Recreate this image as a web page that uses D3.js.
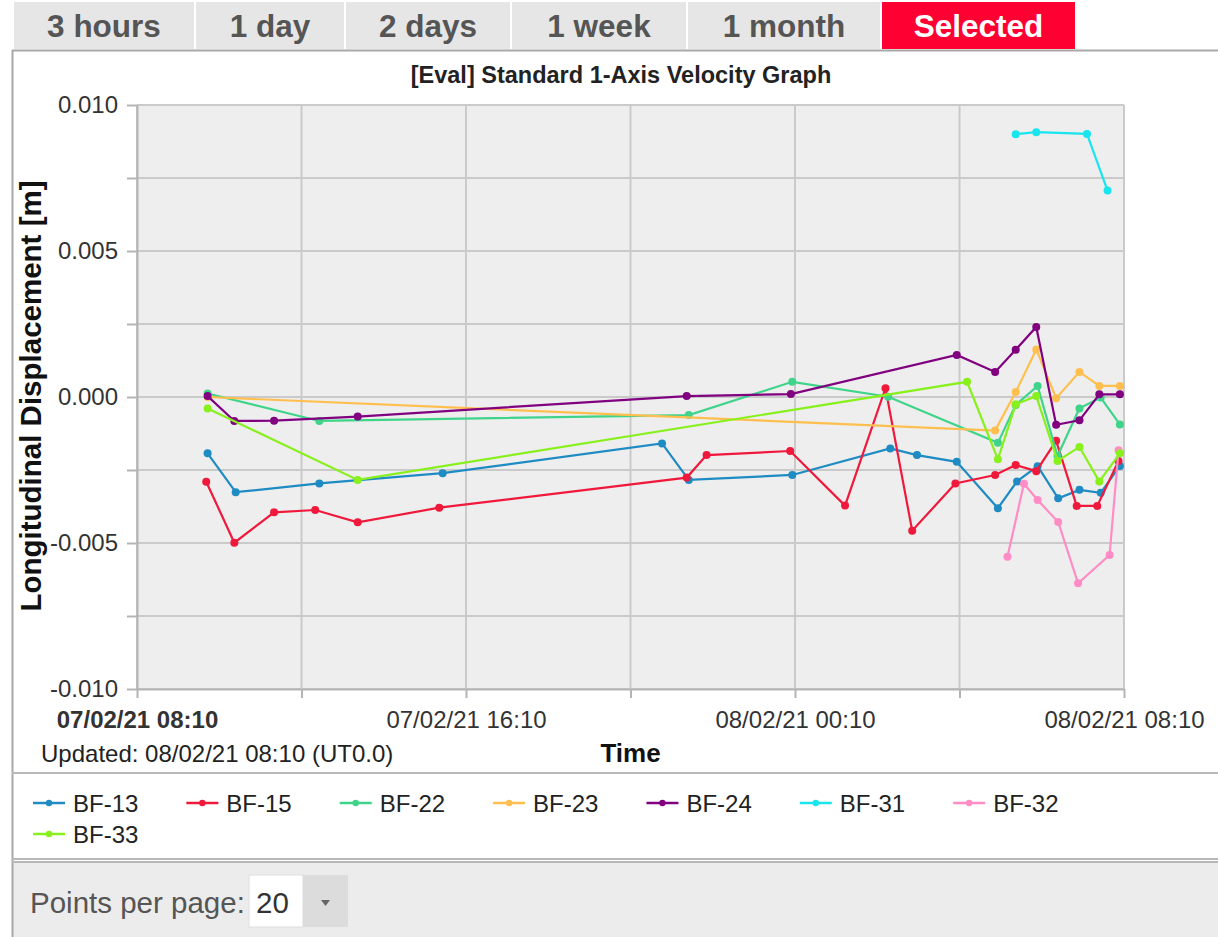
<!DOCTYPE html>
<meta charset="utf-8">
<style>

body { margin: 0; background: #fff; }
svg { display: block; font-family: "Liberation Sans", Arial, sans-serif; }

.aba text { font-size: 31.5px; font-weight: bold; text-anchor: middle; }
.eixo text { font-size: 24px; fill: #333; font-family: "Liberation Sans", Arial, sans-serif; }
.eixo path, .eixo line { stroke: #b4b4b4; stroke-width: 2; }
.grade line { stroke: #cacaca; stroke-width: 2; }
.serie path { fill: none; stroke-width: 2.2; }
.legenda text { font-size: 24px; fill: #222; }

</style>

<svg width="1218" height="937"></svg>

<script src="https://d3js.org/d3.v7.min.js"></script>
<script>

// ---- dados ----
var seriesNomes = ["BF-13", "BF-15", "BF-22", "BF-23", "BF-24", "BF-31", "BF-32", "BF-33"];

var bf13 = [
  ["07/02/21 09:53", -0.00193], ["07/02/21 10:34", -0.00326], ["07/02/21 12:36", -0.00296],
  ["07/02/21 15:36", -0.00261], ["07/02/21 20:56", -0.00159], ["07/02/21 21:35", -0.00284],
  ["08/02/21 00:06", -0.00267], ["08/02/21 02:29", -0.00176], ["08/02/21 03:08", -0.00199],
  ["08/02/21 04:06", -0.00222], ["08/02/21 05:06", -0.00381], ["08/02/21 05:34", -0.00289],
  ["08/02/21 06:04", -0.00237], ["08/02/21 06:34", -0.00347], ["08/02/21 07:05", -0.00318],
  ["08/02/21 07:36", -0.00328], ["08/02/21 08:04", -0.00236]
];
var bf15 = [
  ["07/02/21 09:51", -0.00290], ["07/02/21 10:32", -0.00499], ["07/02/21 11:30", -0.00395],
  ["07/02/21 12:30", -0.00387], ["07/02/21 13:32", -0.00429], ["07/02/21 15:31", -0.00379],
  ["07/02/21 21:32", -0.00276], ["07/02/21 22:01", -0.00199], ["08/02/21 00:03", -0.00185],
  ["08/02/21 01:23", -0.00372], ["08/02/21 02:22", 0.00030], ["08/02/21 03:01", -0.00458],
  ["08/02/21 04:04", -0.00296], ["08/02/21 05:02", -0.00267], ["08/02/21 05:32", -0.00233],
  ["08/02/21 06:02", -0.00254], ["08/02/21 06:31", -0.00150], ["08/02/21 07:01", -0.00373],
  ["08/02/21 07:31", -0.00373], ["08/02/21 08:02", -0.00219]
];
var bf22 = [
  ["07/02/21 09:53", 0.00012], ["07/02/21 12:36", -0.00082], ["07/02/21 21:35", -0.00062],
  ["08/02/21 00:06", 0.00052], ["08/02/21 02:26", 0.00001], ["08/02/21 05:06", -0.00157],
  ["08/02/21 05:32", -0.00027], ["08/02/21 06:04", 0.00038], ["08/02/21 06:33", -0.00202],
  ["08/02/21 07:05", -0.00039], ["08/02/21 07:36", -0.00002], ["08/02/21 08:04", -0.00094]
];
var bf23 = [
  ["07/02/21 09:53", 0.00000], ["08/02/21 05:02", -0.00115], ["08/02/21 05:32", 0.00017],
  ["08/02/21 06:02", 0.00163], ["08/02/21 06:31", -0.00004], ["08/02/21 07:05", 0.00086],
  ["08/02/21 07:34", 0.00038], ["08/02/21 08:04", 0.00038]
];
var bf24 = [
  ["07/02/21 09:53", 0.00003], ["07/02/21 10:32", -0.00082], ["07/02/21 11:30", -0.00081],
  ["07/02/21 13:32", -0.00067], ["07/02/21 21:32", 0.00003], ["08/02/21 00:04", 0.00010],
  ["08/02/21 04:06", 0.00144], ["08/02/21 05:02", 0.00086], ["08/02/21 05:32", 0.00162],
  ["08/02/21 06:02", 0.00240], ["08/02/21 06:31", -0.00095], ["08/02/21 07:05", -0.00080],
  ["08/02/21 07:34", 0.00009], ["08/02/21 08:04", 0.00009]
];
var bf31 = [
  ["08/02/21 05:32", 0.00900], ["08/02/21 06:02", 0.00907], ["08/02/21 07:16", 0.00901],
  ["08/02/21 07:46", 0.00707]
];
var bf32 = [
  ["08/02/21 05:20", -0.00547], ["08/02/21 05:44", -0.00297], ["08/02/21 06:04", -0.00353],
  ["08/02/21 06:34", -0.00428], ["08/02/21 07:03", -0.00638], ["08/02/21 07:49", -0.00541],
  ["08/02/21 08:02", -0.00182]
];
var bf33 = [
  ["07/02/21 09:53", -0.00039], ["07/02/21 13:32", -0.00284], ["08/02/21 04:21", 0.00052],
  ["08/02/21 05:06", -0.00213], ["08/02/21 05:32", -0.00025], ["08/02/21 06:02", 0.00003],
  ["08/02/21 06:33", -0.00219], ["08/02/21 07:05", -0.00171], ["08/02/21 07:34", -0.00289],
  ["08/02/21 08:04", -0.00193]
];

var xTicks = ["07/02/21 08:10", "07/02/21 12:10", "07/02/21 16:10", "07/02/21 20:10",
              "08/02/21 00:10", "08/02/21 04:10", "08/02/21 08:10"];
var yTicks = [-0.01, -0.0075, -0.005, -0.0025, 0, 0.0025, 0.005, 0.0075, 0.01];
var abas = ["3 hours", "1 day", "2 days", "1 week", "1 month", "Selected"];

// ---- estilo ----
var cores = ["#1e8bc3", "#f0193c", "#3fd48a", "#ffbf4f", "#800080", "#19e5ef", "#ff8cc4", "#88f01c"];
var abaBordas = [14, 196, 346, 512, 688, 882, 1077];

var svg = d3.select("svg");
var parse = d3.timeParse("%d/%m/%y %H:%M");
var fmt = d3.formatLocale({decimal: ".", thousands: ",", grouping: [3], currency: ["", ""], minus: "-"}).format(".3f");

var series = [bf13, bf15, bf22, bf23, bf24, bf31, bf32, bf33].map(function(v, i) {
  return {nome: seriesNomes[i], cor: cores[i], valores: v};
});

// abas
var aba = svg.selectAll(".aba").data(abas).enter().append("g").attr("class", "aba");
aba.append("rect")
    .attr("x", (d, i) => abaBordas[i])
    .attr("y", 2)
    .attr("width", (d, i) => abaBordas[i + 1] - abaBordas[i] - 2)
    .attr("height", 47)
    .attr("fill", (d, i) => i === abas.length - 1 ? "#ff0033" : "#e6e6e6");
aba.append("text")
    .attr("x", (d, i) => (abaBordas[i] + abaBordas[i + 1] - 2) / 2)
    .attr("y", 37)
    .attr("fill", (d, i) => i === abas.length - 1 ? "#fff" : "#555")
    .text(d => d);

// moldura do painel
svg.append("rect").attr("x", 12).attr("y", 862).attr("width", 1206).attr("height", 75).attr("fill", "#ececec");
svg.append("line").attr("x1", 12).attr("x2", 1218).attr("y1", 50.5).attr("y2", 50.5).attr("stroke", "#a8a8a8").attr("stroke-width", 2);
svg.append("line").attr("x1", 12.5).attr("x2", 12.5).attr("y1", 50).attr("y2", 937).attr("stroke", "#a8a8a8").attr("stroke-width", 2);
[773, 859, 862].forEach(function(yy) {
  svg.append("line").attr("x1", 12).attr("x2", 1218).attr("y1", yy).attr("y2", yy)
      .attr("stroke", "#b8b8b8").attr("stroke-width", 2);
});

// escalas
var x = d3.scaleTime().domain([parse(xTicks[0]), parse(xTicks[xTicks.length - 1])]).range([137, 1124]);
var y = d3.scaleLinear().domain([-0.01, 0.01]).range([689, 105]);

svg.append("rect").attr("x", 137).attr("y", 105).attr("width", 987).attr("height", 584).attr("fill", "#eeeeee");

var grade = svg.append("g").attr("class", "grade");
grade.selectAll(".gx").data(xTicks).enter().append("line")
    .attr("x1", d => x(parse(d))).attr("x2", d => x(parse(d)))
    .attr("y1", 105).attr("y2", 689);
grade.selectAll(".gy").data(yTicks).enter().append("line")
    .attr("x1", 137).attr("x2", 1124)
    .attr("y1", d => y(d)).attr("y2", d => y(d));

// eixos
svg.append("g")
    .attr("class", "eixo")
    .attr("transform", "translate(137,0)")
    .call(d3.axisLeft(y).tickValues(yTicks).tickSize(10).tickSizeOuter(0).tickPadding(9)
      .tickFormat(d => Math.abs(Math.round(d * 10000)) % 50 === 0 ? fmt(d) : ""));

var eixoX = svg.append("g")
    .attr("class", "eixo")
    .attr("transform", "translate(0,689)")
    .call(d3.axisBottom(x).tickValues(xTicks.map(parse)).tickSize(9).tickSizeOuter(0).tickPadding(13)
      .tickFormat((d, i) => i % 2 === 0 ? xTicks[i] : ""));
eixoX.selectAll(".tick text").filter((d, i) => i === 0).attr("font-weight", "bold").attr("fill", "#222");

// séries
var linha = d3.line().x(d => x(parse(d[0]))).y(d => y(d[1]));

var serie = svg.selectAll(".serie").data(series).enter().append("g").attr("class", "serie");
serie.append("path").attr("stroke", d => d.cor).attr("d", d => linha(d.valores));
serie.selectAll("circle").data(d => d.valores.map(v => [v, d.cor])).enter().append("circle")
    .attr("cx", d => x(parse(d[0][0])))
    .attr("cy", d => y(d[0][1]))
    .attr("r", 4)
    .attr("fill", d => d[1]);

// textos
svg.append("text").attr("x", 621).attr("y", 83).attr("text-anchor", "middle")
    .attr("font-size", 23.5).attr("font-weight", "bold").attr("fill", "#222")
    .text("[Eval] Standard 1-Axis Velocity Graph");

svg.append("text").attr("transform", "translate(41,396) rotate(-90)").attr("text-anchor", "middle")
    .attr("font-size", 29.5).attr("font-weight", "bold").attr("fill", "#111")
    .text("Longitudinal Displacement [m]");

svg.append("text").attr("x", 41).attr("y", 762).attr("font-size", 24).attr("fill", "#222")
    .text("Updated: 08/02/21 08:10 (UT0.0)");

svg.append("text").attr("x", 630.5).attr("y", 762).attr("text-anchor", "middle")
    .attr("font-size", 26).attr("font-weight", "bold").attr("fill", "#111")
    .text("Time");

// legenda
var leg = svg.append("g").attr("class", "legenda");
var lx = 33, ly = 803;
series.forEach(function(s) {
  if (lx > 1080) { lx = 33; ly += 31; }
  leg.append("line").attr("x1", lx).attr("x2", lx + 32).attr("y1", ly).attr("y2", ly)
      .attr("stroke", s.cor).attr("stroke-width", 2.5);
  leg.append("circle").attr("cx", lx + 16).attr("cy", ly).attr("r", 3.2).attr("fill", s.cor);
  var t = leg.append("text").attr("x", lx + 40).attr("y", ly + 9).text(s.nome);
  lx = lx + 40 + t.node().getComputedTextLength() + 48;
});

// rodapé
svg.append("text").attr("x", 30).attr("y", 913).attr("font-size", 29.5).attr("fill", "#555")
    .text("Points per page:");
svg.append("rect").attr("x", 249).attr("y", 875).attr("width", 54).attr("height", 52)
    .attr("fill", "#fff").attr("stroke", "#ddd");
svg.append("rect").attr("x", 303).attr("y", 875).attr("width", 45).attr("height", 52).attr("fill", "#dcdcdc");
svg.append("text").attr("x", 256).attr("y", 913).attr("font-size", 29.5).attr("fill", "#333").text("20");
svg.append("path").attr("d", "M321,900 L330,900 L325.5,906 Z").attr("fill", "#666");

</script>
